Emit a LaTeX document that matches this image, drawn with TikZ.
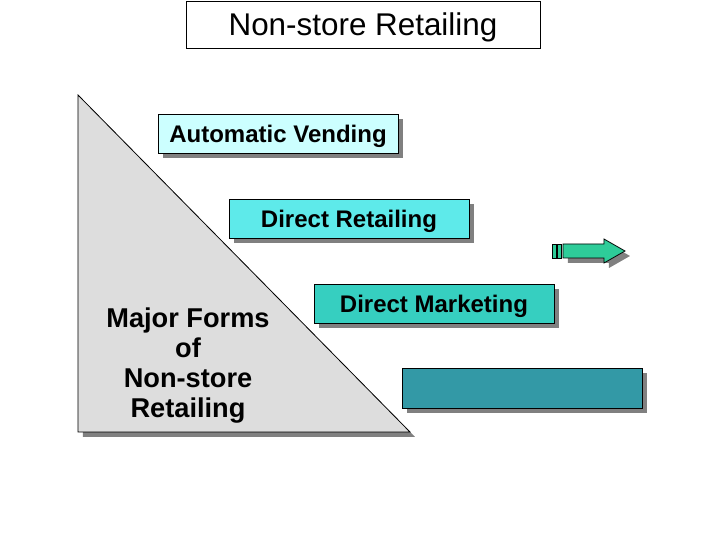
\documentclass[tikz,border=0pt]{standalone}
\usepackage{fontspec}
\setmainfont{Liberation Sans}
\usepackage{tikz}
\usetikzlibrary{shadows}
\definecolor{vendfill}{HTML}{CCFFFF}
\definecolor{retailfill}{HTML}{5EEAEA}
\definecolor{marketfill}{HTML}{36CFC0}
\definecolor{blankfill}{HTML}{3399A6}
\definecolor{arrowfill}{HTML}{2ECC99}
\definecolor{wedgefill}{HTML}{DDDDDD}
\definecolor{shadowgray}{HTML}{808080}
\tikzstyle{shade}=[drop shadow={shadow xshift=2.5pt, shadow yshift=-2.5pt, fill=shadowgray, opacity=1}]
\tikzstyle{formbox}=[rectangle, draw=black, inner sep=0pt, text depth=0pt, minimum width=120pt, minimum height=19.5pt, font=\fontsize{12pt}{14pt}\selectfont\bfseries, shade]
\tikzstyle{titlebox}=[rectangle, draw=black, fill=white, inner sep=0pt, text depth=0pt, minimum width=177pt, minimum height=23.5pt, font=\fontsize{15.7pt}{18pt}\selectfont]

\begin{document}
\begin{tikzpicture}[x=0.5pt, y=-0.5pt]
	\useasboundingbox (0, 0) rectangle (720, 540);
	% title
	\node [style=titlebox] (title) at (363, 24.5) {Non-store Retailing};
	% wedge
	\fill [shadowgray] (83, 100) -- (83, 437) -- (415, 437) -- cycle;
	\filldraw [fill=wedgefill, draw=black] (78, 95) -- (78, 432) -- (410, 432) -- cycle;
	\node [align=center, font=\fontsize{13.6pt}{15pt}\selectfont\bfseries] (major) at (188, 366) {Major Forms\\of\\Non-store\\Retailing};
	% forms
	\node [style=formbox, fill=vendfill] (vending) at (278, 134) {Automatic Vending};
	\node [style=formbox, fill=retailfill] (retailing) at (349, 219) {Direct Retailing};
	\node [style=formbox, fill=marketfill] (marketing) at (434, 304) {Direct Marketing};
	\node [style=formbox, fill=blankfill, minimum height=20pt] (blank) at (522, 388) {};
	% arrow
	\fill [shadowgray] (568, 249) -- (609, 249) -- (609, 244) -- (630, 256) -- (609, 268) -- (609, 263) -- (568, 263) -- cycle;
	\filldraw [fill=arrowfill, draw=black] (563, 244) -- (604, 244) -- (604, 239) -- (625, 251) -- (604, 263) -- (604, 258) -- (563, 258) -- cycle;
	\filldraw [fill=arrowfill, draw=black] (552, 244) rectangle (556, 258);
	\filldraw [fill=arrowfill, draw=black] (557, 244) rectangle (561, 258);
\end{tikzpicture}
\end{document}
